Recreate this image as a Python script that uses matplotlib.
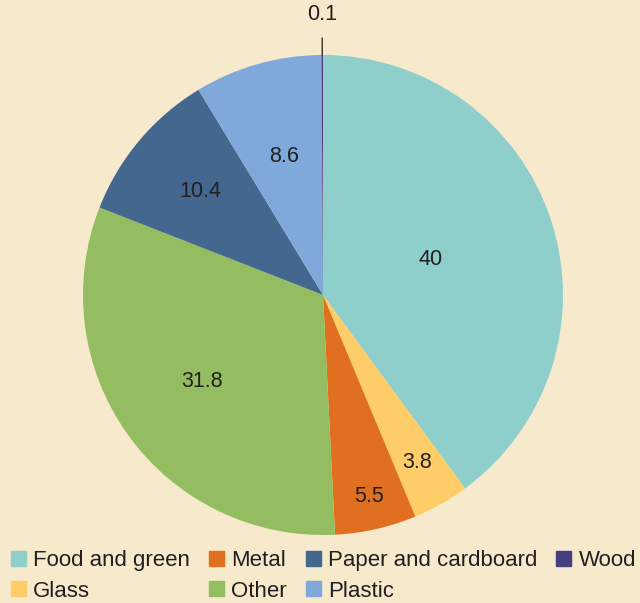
import numpy as np
import matplotlib.pyplot as plt

categories = ["Food and green", "Glass", "Metal", "Other",
              "Paper and cardboard", "Plastic", "Wood"]
values = [40, 3.8, 5.5, 31.8, 10.4, 8.6, 0.1]
colors = ["#8ecfcc", "#fecd67", "#e06f1f", "#94bd62",
          "#44678f", "#7fa9da", "#463e7e"]
# radial position of each value label (fraction of radius)
label_r = [0.47, 0.80, 0.86, 0.62, 0.67, 0.6, 1.17]

bg = "#f7e9cb"
plt.rcParams['font.family'] = ['Liberation Sans', 'DejaVu Sans']

fig = plt.figure(figsize=(6.4, 6.03), dpi=100, facecolor=bg)
ax = fig.add_axes([83 / 640, 68 / 603, 480 / 640, 480 / 603])
ax.set_facecolor(bg)

wedges, _ = ax.pie(values, colors=colors, startangle=90, counterclock=False,
                   radius=1, wedgeprops=dict(linewidth=0))
ax.set_xlim(-1, 1)
ax.set_ylim(-1, 1)
ax.set_aspect('equal')
ax.axis('off')

for w, v, r in zip(wedges, values, label_r):
    ang = np.deg2rad((w.theta1 + w.theta2) / 2)
    x, y = r * np.cos(ang), r * np.sin(ang)
    ax.text(x, y, f"{v:g}", ha='center', va='center', fontsize=15.5,
            color='#231f20', clip_on=False)
    if r > 1:
        ax.plot([np.cos(ang), 1.07 * np.cos(ang)], [np.sin(ang), 1.07 * np.sin(ang)],
                color='#231f20', lw=0.9, clip_on=False)

# legend in column order matching the reference
handles = [plt.Rectangle((0, 0), 1, 1, color=c) for c in colors]
fig.legend(handles, categories, ncol=4, loc='lower left',
           bbox_to_anchor=(0.0, -0.016), frameon=False, fontsize=16,
           handlelength=0.68, handleheight=0.68, handletextpad=0.32,
           columnspacing=0.85, labelspacing=0.42, borderaxespad=0.2,
           borderpad=0.3, labelcolor='#231f20')

fig.savefig("out.png", dpi=100, facecolor=bg)
